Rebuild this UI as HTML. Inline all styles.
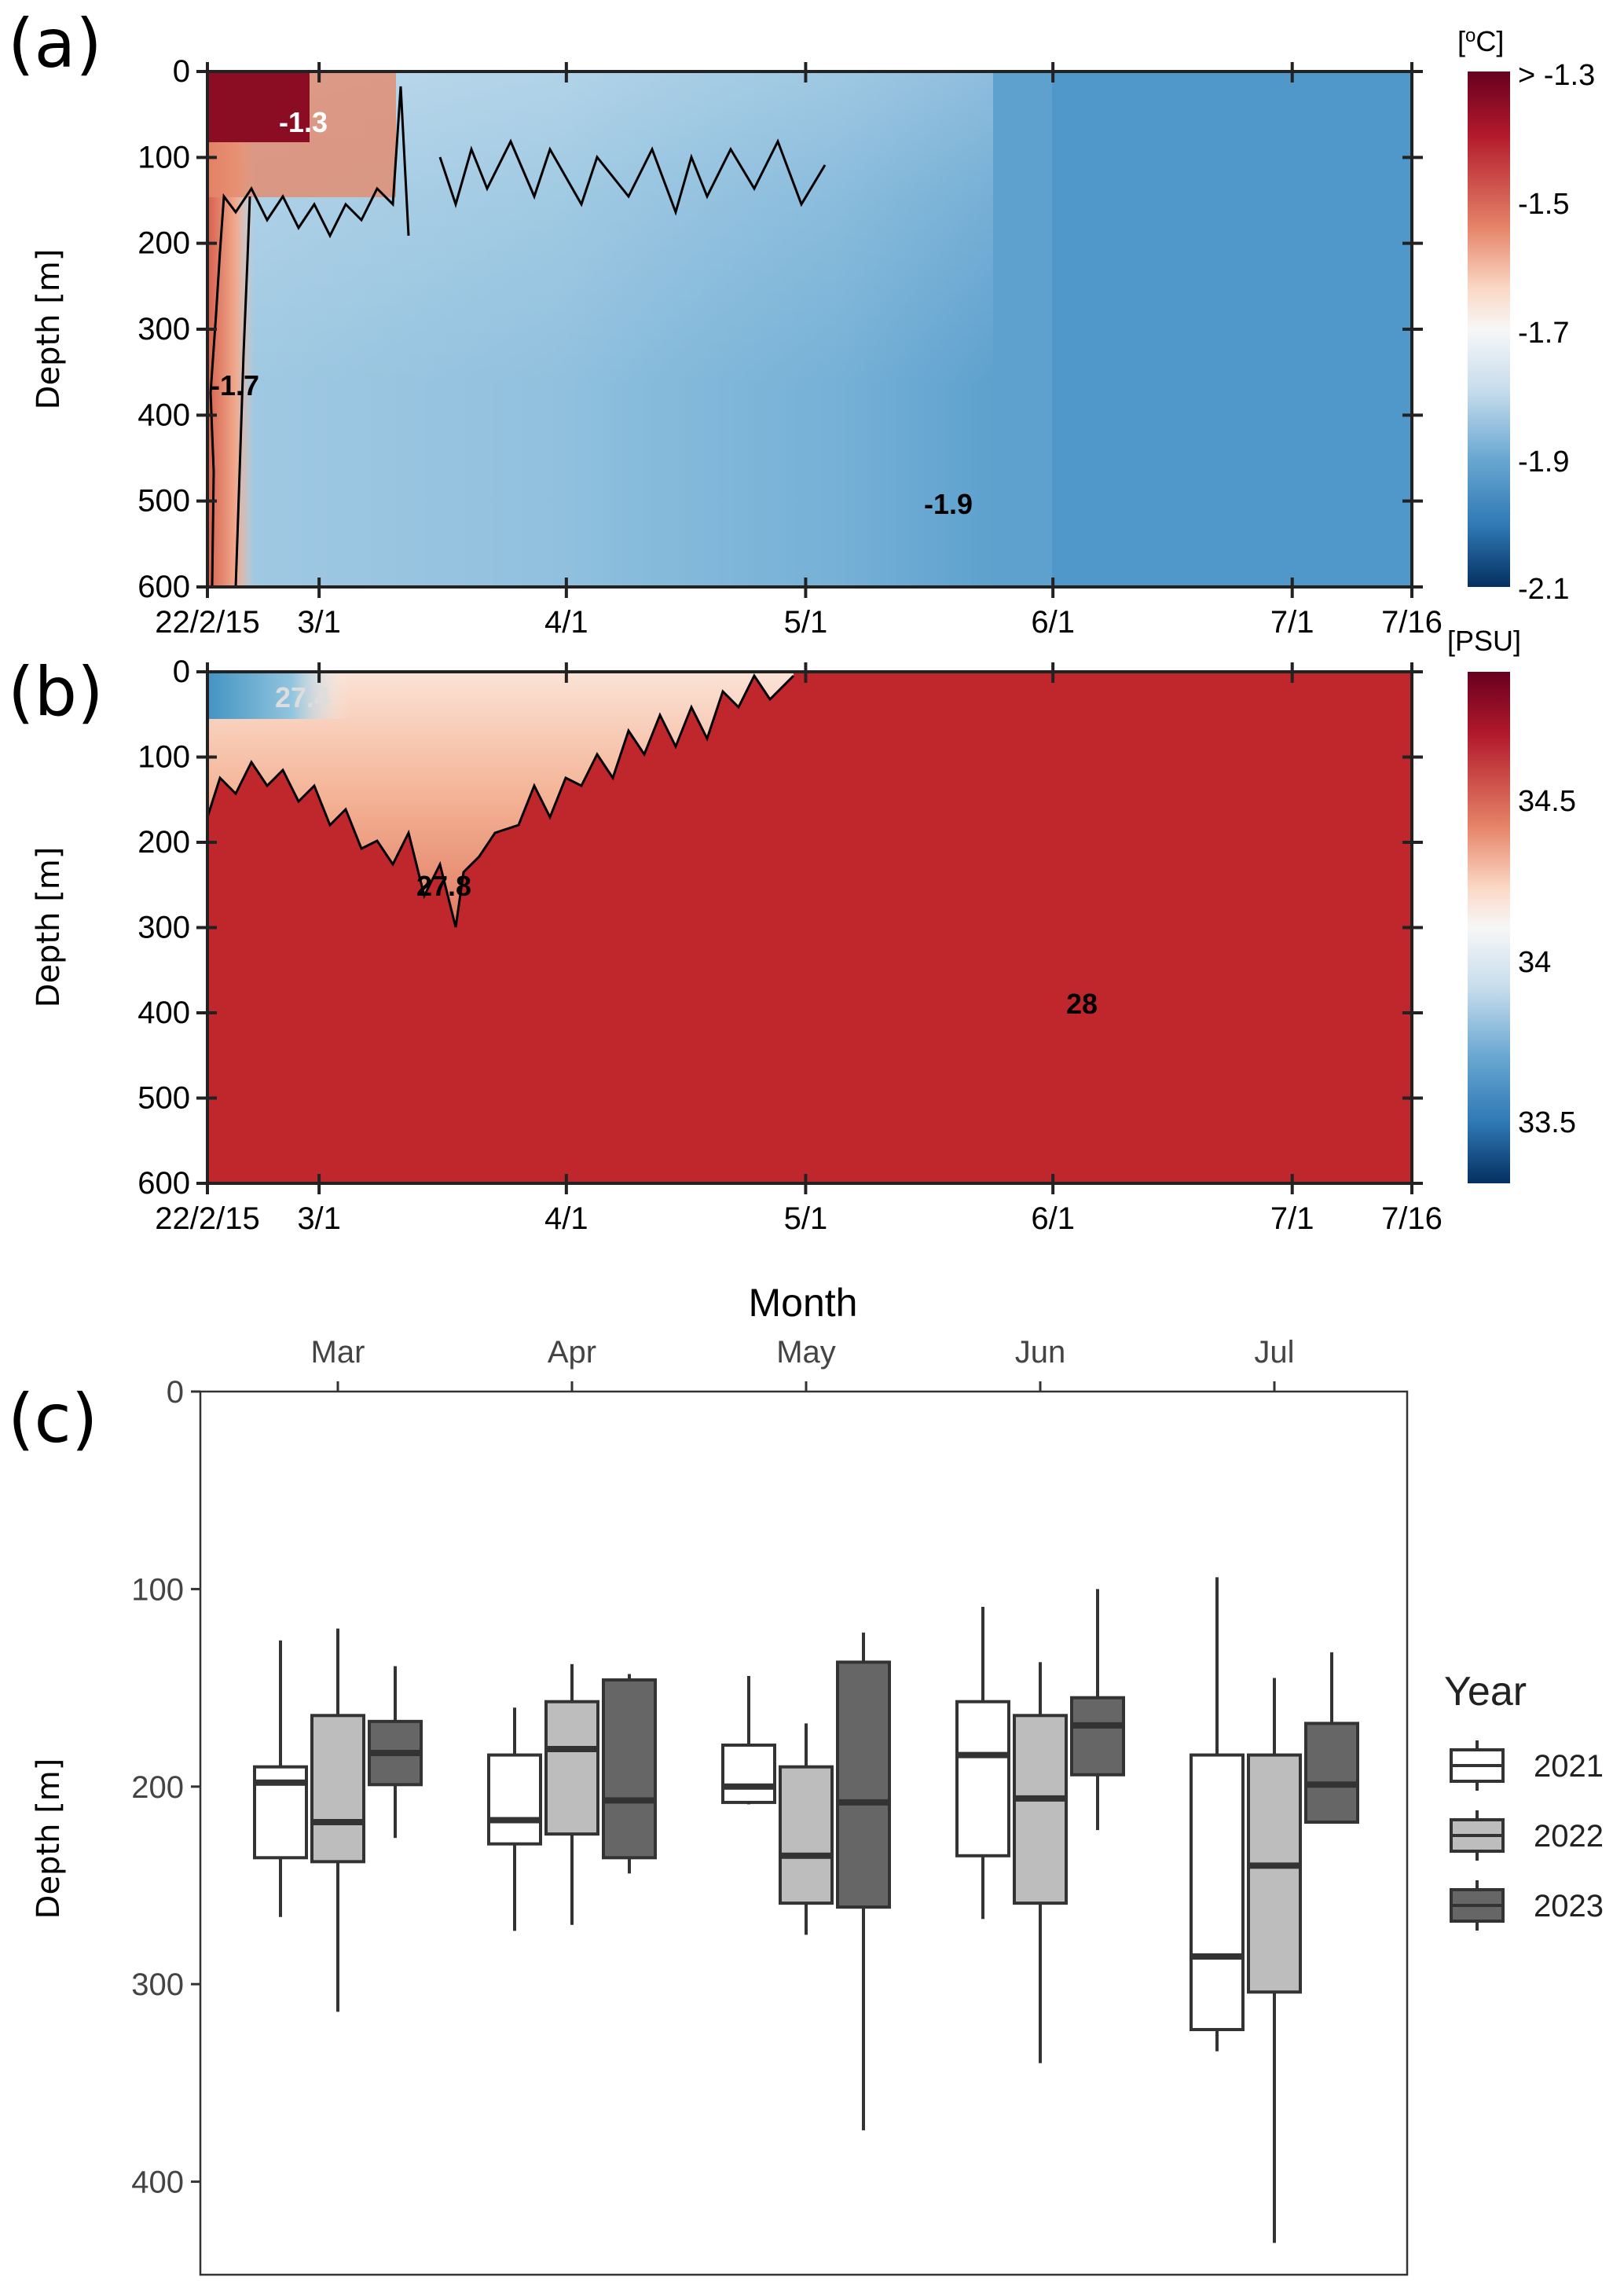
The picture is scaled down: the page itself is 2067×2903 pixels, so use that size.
<!DOCTYPE html>
<html><head><meta charset="utf-8"><style>
body{margin:0;background:#fff}
svg{display:block;font-family:"Liberation Sans",sans-serif}
</style></head><body>
<svg id="fig" width="2067" height="2903" viewBox="0 0 2067 2903" xmlns="http://www.w3.org/2000/svg">
<defs>
<linearGradient id="tcb" x1="0" y1="0" x2="0" y2="1">
<stop offset="0" stop-color="#67001f"/><stop offset="0.12" stop-color="#b2182b"/><stop offset="0.3" stop-color="#e58267"/><stop offset="0.42" stop-color="#fbd7c4"/><stop offset="0.5" stop-color="#f7f7f7"/><stop offset="0.62" stop-color="#c6dcec"/><stop offset="0.75" stop-color="#6aa8d2"/><stop offset="0.88" stop-color="#2f79b5"/><stop offset="1" stop-color="#053061"/>
</linearGradient>
<linearGradient id="aLight" x1="0" y1="0" x2="1" y2="0">
<stop offset="0" stop-color="#a9cee5" stop-opacity="0.9"/><stop offset="0.45" stop-color="#99c6e1" stop-opacity="0.85"/><stop offset="0.8" stop-color="#86bbdc" stop-opacity="0.6"/><stop offset="1" stop-color="#86bbdc" stop-opacity="0"/>
</linearGradient>
<linearGradient id="aV" x1="0" y1="0" x2="0" y2="1">
<stop offset="0" stop-color="#fff" stop-opacity="0.3"/><stop offset="0.4" stop-color="#fff" stop-opacity="0.15"/><stop offset="1" stop-color="#fff" stop-opacity="0"/>
</linearGradient>
<linearGradient id="aRed" x1="0" y1="0" x2="1" y2="0">
<stop offset="0" stop-color="#d6604d"/><stop offset="0.6" stop-color="#f1a98d"/><stop offset="1" stop-color="#f4c6b1" stop-opacity="0"/>
</linearGradient>
<linearGradient id="bTop" x1="0" y1="0" x2="0" y2="1">
<stop offset="0" stop-color="#fbe3d6"/><stop offset="0.5" stop-color="#f4b294"/><stop offset="1" stop-color="#e07a62"/>
</linearGradient>
<linearGradient id="bBlue" x1="0" y1="0" x2="1" y2="0">
<stop offset="0" stop-color="#4393c3"/><stop offset="0.6" stop-color="#92c5de"/><stop offset="1" stop-color="#f7f7f7" stop-opacity="0"/>
</linearGradient>
</defs>

<!-- Panel (a) -->
<text x="10" y="85" font-size="86" font-family="DejaVu Sans,sans-serif">(a)</text>
<g>
<rect x="264" y="91" width="1533" height="656" fill="#5ea1ce"/>
<rect x="1339" y="91" width="458" height="656" fill="#5198ca"/>
<rect x="264" y="91" width="1000" height="656" fill="url(#aLight)"/>
<rect x="264" y="91" width="1000" height="400" fill="url(#aV)"/>
<rect x="264" y="91" width="60" height="656" fill="url(#aRed)"/>
<rect x="264" y="91" width="240" height="160" fill="#e58a6c" opacity="0.8"/>
<rect x="264" y="91" width="130" height="90" fill="#8b0d24"/>
<polyline fill="none" stroke="#000" stroke-width="3" points="270,747 272,600 268,500 275,400 280,320 285,250 300,270 320,240 340,280 360,250 380,290 400,260 420,300 440,260 460,280 480,240 500,260 510,110 520,300"/>
<polyline fill="none" stroke="#000" stroke-width="3" points="300,747 305,600 310,450 315,330 318,250"/>
<polyline fill="none" stroke="#000" stroke-width="3" points="560,200 580,260 600,190 620,240 650,180 680,250 700,190 740,260 760,200 800,250 830,190 860,270 880,200 900,250 930,190 960,240 990,180 1020,260 1050,210"/>
<text x="355" y="168" font-size="36" font-weight="bold" fill="#fff">-1.3</text>
<text x="268" y="503" font-size="36" font-weight="bold" fill="#000">-1.7</text>
<text x="1176" y="654" font-size="36" font-weight="bold" fill="#000">-1.9</text>
</g>
<rect x="264" y="91" width="1533" height="656" fill="none" stroke="#222" stroke-width="4"/>
<g id="axA"></g>
<text transform="translate(75,419) rotate(-90)" text-anchor="middle" font-size="40" font-family="DejaVu Sans,sans-serif">Depth [m]</text>
<rect x="1868" y="91" width="54" height="656" fill="url(#tcb)"/>
<text x="1855" y="65" font-size="36">[<tspan font-size="24" dy="-12">o</tspan><tspan dy="12">C]</tspan></text>
<g font-size="38">
<text x="1932" y="108">&gt; -1.3</text><text x="1932" y="272">-1.5</text><text x="1932" y="436">-1.7</text><text x="1932" y="600">-1.9</text><text x="1932" y="762">-2.1</text>
</g>

<!-- Panel (b) -->
<text x="10" y="910" font-size="86" font-family="DejaVu Sans,sans-serif">(b)</text>
<g>
<rect x="264" y="855" width="1533" height="651" fill="#c0272d"/>
<polygon fill="url(#bTop)" points="264,855 1010,855 1010,860 1000,870 980,890 960,860 940,900 920,880 900,940 880,900 860,950 840,910 820,960 800,930 780,990 760,960 740,1000 720,990 700,1040 680,1000 660,1050 630,1060 610,1090 590,1110 580,1180 560,1100 540,1140 520,1060 500,1100 480,1070 460,1080 440,1030 420,1050 400,1000 380,1020 360,980 340,1000 320,970 300,1010 280,990 264,1040"/>
<rect x="264" y="855" width="180" height="60" fill="url(#bBlue)"/>
<polyline fill="none" stroke="#000" stroke-width="3" points="264,1040 280,990 300,1010 320,970 340,1000 360,980 380,1020 400,1000 420,1050 440,1030 460,1080 480,1070 500,1100 520,1060 540,1140 560,1100 580,1180 590,1110 610,1090 630,1060 660,1050 680,1000 700,1040 720,990 740,1000 760,960 780,990 800,930 820,960 840,910 860,950 880,900 900,940 920,880 940,900 960,860 980,890 1000,870 1010,860"/>
<text x="530" y="1140" font-size="36" font-weight="bold" fill="#000">27.8</text>
<text x="1357" y="1290" font-size="36" font-weight="bold" fill="#000">28</text>
<text x="350" y="900" font-size="36" font-weight="bold" fill="#ddd">27.4</text>
</g>
<rect x="264" y="855" width="1533" height="651" fill="none" stroke="#222" stroke-width="4"/>
<g id="axB"></g>
<text transform="translate(75,1180) rotate(-90)" text-anchor="middle" font-size="40" font-family="DejaVu Sans,sans-serif">Depth [m]</text>
<rect x="1868" y="855" width="54" height="651" fill="url(#tcb)"/>
<text x="1842" y="828" font-size="36">[PSU]</text>
<g font-size="38">
<text x="1932" y="1032">34.5</text><text x="1932" y="1237">34</text><text x="1932" y="1441">33.5</text>
</g>

<!-- Panel (c) -->
<text x="10" y="1835" font-size="86" font-family="DejaVu Sans,sans-serif">(c)</text>
<text x="1022" y="1675" text-anchor="middle" font-size="50">Month</text>
<rect x="255" y="1771" width="1536" height="1124" fill="#fff" stroke="#333" stroke-width="2.5"/>
<g id="boxC"></g>
<text transform="translate(75,2340) rotate(-90)" text-anchor="middle" font-size="40" font-family="DejaVu Sans,sans-serif">Depth [m]</text>
<text x="1838" y="2170" font-size="52" fill="#222">Year</text>
<g id="legend"></g>
</svg>
<script>
const NS="http://www.w3.org/2000/svg";
const dateLabels=["22/2/15","3/1","4/1","5/1","6/1","7/1","7/16"];
const dateDays=[0,14,45,75,106,136,151];
const depthTicks=[0,100,200,300,400,500,600];
const months=["Mar","Apr","May","Jun","Jul"];
const years=["2021","2022","2023"];
const yearFill=["#ffffff","#bdbdbd","#666666"];
const wLow=[[126,120,139],[160,138,143],[144,168,122],[109,137,100],[94,145,132]];
const q1=[[190,164,167],[184,157,146],[179,190,137],[157,164,155],[184,184,168]];
const med=[[198,218,183],[217,181,207],[200,235,208],[184,206,169],[286,240,199]];
const q3=[[236,238,199],[229,224,236],[208,259,261],[235,259,194],[323,304,218]];
const wHigh=[[266,314,226],[273,270,244],[209,275,374],[267,340,222],[334,431,218]];
const cTicks=[0,100,200,300,400];

function mk(tag,attrs,parent){const e=document.createElementNS(NS,tag);for(const k in attrs)e.setAttribute(k,attrs[k]);parent.appendChild(e);return e;}

function heatAxes(gid,x0,x1,y0,y1){
  const g=document.getElementById(gid);
  const xs=d=>x0+(x1-x0)*d/151;
  const ys=v=>y0+(y1-y0)*v/600;
  dateDays.forEach((d,i)=>{
    const x=xs(d);
    mk('line',{x1:x,x2:x,y1:y1-12,y2:y1+14,stroke:'#222','stroke-width':4},g);
    mk('line',{x1:x,x2:x,y1:y0-12,y2:y0+14,stroke:'#222','stroke-width':4},g);
    const t=mk('text',{x:x,y:y1+58,'text-anchor':'middle','font-size':40},g);
    
    
    t.textContent=dateLabels[i];
  });
  depthTicks.forEach(v=>{
    const y=ys(v);
    mk('line',{x1:x0-14,x2:x0+12,y1:y,y2:y,stroke:'#222','stroke-width':4},g);
    mk('line',{x1:x1-12,x2:x1+14,y1:y,y2:y,stroke:'#222','stroke-width':4},g);
    const t=mk('text',{x:x0-22,y:y+13,'text-anchor':'end','font-size':40},g);
    
    
    t.textContent=v;
  });
}
heatAxes('axA',264,1797,91,747);
heatAxes('axB',264,1797,855,1506);

const g=document.getElementById('boxC');
const xMonth=i=>430+i*298;
const yD=v=>1771+v*2.514;
const off=[-73,0,73], bw=66;
months.forEach((m,i)=>{
  const x=xMonth(i);
  mk('line',{x1:x,x2:x,y1:1771,y2:1758,stroke:'#333','stroke-width':3},g);
  const t=mk('text',{x:x,y:1734,'text-anchor':'middle','font-size':40,fill:'#444'},g);
  
  
  t.textContent=m;
});
cTicks.forEach(v=>{
  const y=yD(v);
  mk('line',{x1:243,x2:255,y1:y,y2:y,stroke:'#333','stroke-width':3},g);
  const t=mk('text',{x:234,y:y+14,'text-anchor':'end','font-size':40,fill:'#444'},g);
  
  
  t.textContent=v;
});
months.forEach((m,i)=>{
  years.forEach((yr,j)=>{
    const cx=xMonth(i)+off[j];
    const grp=mk('g',{},g);
    
    
    mk('line',{x1:cx,x2:cx,y1:yD(wLow[i][j]),y2:yD(wHigh[i][j]),stroke:'#333','stroke-width':4},grp);
    mk('rect',{x:cx-bw/2,y:yD(q1[i][j]),width:bw,height:yD(q3[i][j])-yD(q1[i][j]),fill:yearFill[j],stroke:'#333','stroke-width':4},grp);
    mk('line',{x1:cx-bw/2,x2:cx+bw/2,y1:yD(med[i][j]),y2:yD(med[i][j]),stroke:'#333','stroke-width':8},grp);
  });
});
const lg=document.getElementById('legend');
years.forEach((yr,j)=>{
  const y=2247+j*89;
  const e=mk('g',{},lg);
  
  
  mk('line',{x1:1880,x2:1880,y1:y-32,y2:y+32,stroke:'#333','stroke-width':4},e);
  mk('rect',{x:1847,y:y-20,width:66,height:40,fill:yearFill[j],stroke:'#333','stroke-width':4},e);
  mk('line',{x1:1847,x2:1913,y1:y,y2:y,stroke:'#333','stroke-width':4},e);
  const t=mk('text',{x:1952,y:y+14,'font-size':40,fill:'#222'},e);
  t.textContent=yr;
});
</script>
</body></html>
